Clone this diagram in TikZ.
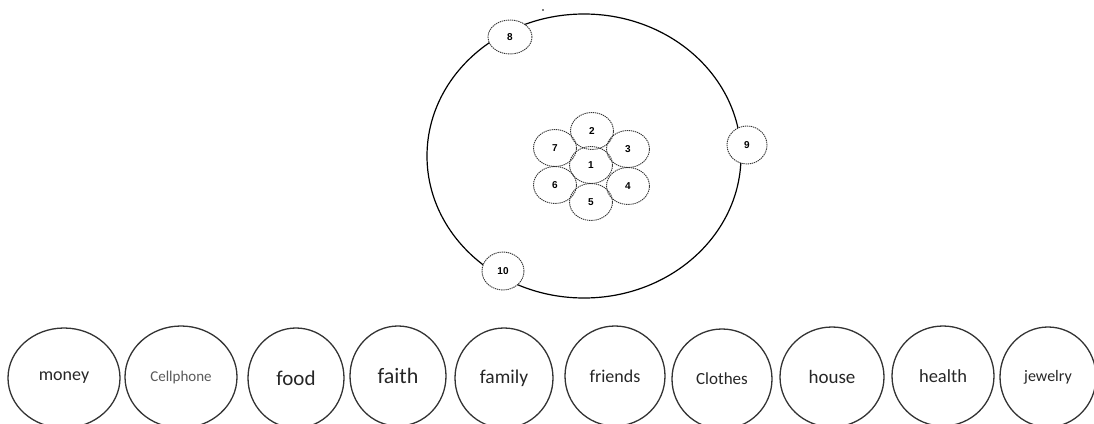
\documentclass[tikz,border=0pt]{standalone}
\usepackage{fontspec}
\setmainfont{Carlito}
\newfontfamily\numfont{Liberation Sans}
\usetikzlibrary{shapes.geometric}
\tikzset{
  dashcirc/.style={ellipse,draw=black!80,line width=0.9pt,dash pattern=on 1.3pt off 0.8pt,inner sep=0pt,minimum width=43pt,minimum height=37pt,font=\numfont\bfseries\fontsize{10}{10}\selectfont},
  sidecirc/.style={dashcirc,fill=white},
  bubble/.style={ellipse,draw=black!80,line width=1.3pt,inner sep=0pt,text=black!85},
  orbit/.style={draw=black,line width=1.2pt}
}
\begin{document}
\begin{tikzpicture}[x=1pt,y=-1pt]
\useasboundingbox (0,0) rectangle (1094,423);
% orbit
\node[ellipse,orbit,minimum width=314pt,minimum height=284pt,inner sep=0pt] (orbit) at (584,156) {};
\fill (543,10) circle (0.9pt);
% flower
\node[dashcirc] (n1) at (591,165) {1};
\node[dashcirc] (n2) at (592,131) {2};
\node[dashcirc] (n3) at (628,149) {3};
\node[dashcirc] (n4) at (628,186) {4};
\node[dashcirc] (n5) at (591,202) {5};
\node[dashcirc] (n6) at (555,185) {6};
\node[dashcirc] (n7) at (555,148) {7};
% on the orbit
\node[sidecirc,minimum width=44pt,minimum height=34pt] (n8) at (510,37) {8};
\node[sidecirc,minimum width=40pt,minimum height=38pt] (n9) at (747,145) {9};
\node[sidecirc,minimum width=42pt,minimum height=38pt] (n10) at (503,271) {10};
% bubbles
\node[bubble,minimum width=112pt,minimum height=100pt,font=\fontsize{18}{20}\selectfont] (money) at (64,378) {money};
\node[bubble,minimum width=112pt,minimum height=102pt,font=\fontsize{15}{17}\selectfont,text=black!65] (cell) at (181,377) {Cellphone};
\node[bubble,minimum width=96pt,minimum height=100pt,font=\fontsize{21}{23}\selectfont] (food) at (296,378) {food};
\node[bubble,minimum width=96pt,minimum height=100pt,font=\fontsize{22}{24}\selectfont] (faith) at (398,376) {faith};
\node[bubble,minimum width=98pt,minimum height=100pt,font=\fontsize{19.5}{21}\selectfont] (family) at (504,378) {family};
\node[bubble,minimum width=100pt,minimum height=100pt,font=\fontsize{18}{20}\selectfont] (friends) at (615,376) {friends};
\node[bubble,minimum width=100pt,minimum height=100pt,font=\fontsize{17}{19}\selectfont] (clothes) at (722,379) {Clothes};
\node[bubble,minimum width=104pt,minimum height=100pt,font=\fontsize{19}{21}\selectfont] (house) at (832,377) {house};
\node[bubble,minimum width=102pt,minimum height=100pt,font=\fontsize{18.5}{20}\selectfont] (health) at (943,376) {health};
\node[bubble,minimum width=96pt,minimum height=100pt,font=\fontsize{16}{18}\selectfont] (jewelry) at (1048,377) {jewelry};
\end{tikzpicture}
\end{document}
